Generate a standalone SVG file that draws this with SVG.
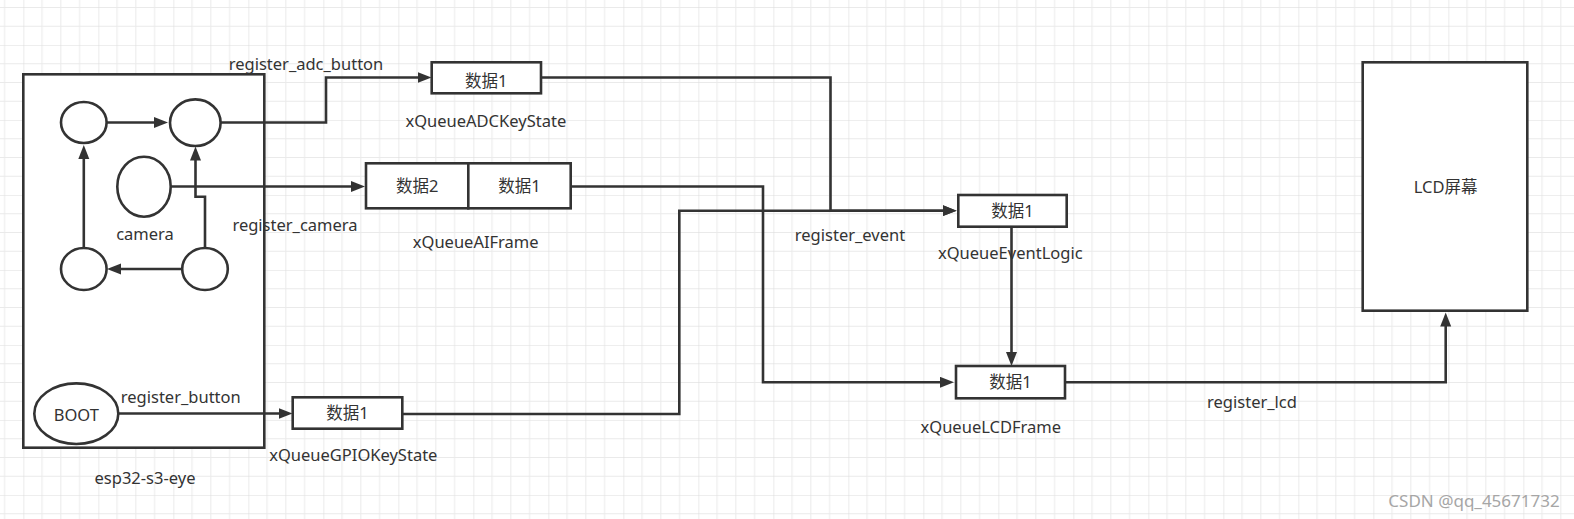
<svg xmlns="http://www.w3.org/2000/svg" width="1574" height="519" viewBox="0 0 1574 519">
<style>
.shape{fill:#ffffff;stroke:#333333;stroke-width:2.6}
.conn{fill:none;stroke:#333333;stroke-width:2.6;marker-end:url(#arr)}
text{font-family:"Noto Sans","Noto Sans CJK SC",sans-serif;font-size:16.5px;fill:#333333;text-anchor:middle}
.wm{fill:#a6a6a6;font-size:17px}
</style>
<defs>
<pattern id="grid" patternUnits="userSpaceOnUse" x="23.33" y="45" width="75" height="75">
<path d="M18.75 0V75M37.5 0V75M56.25 0V75M0 18.75H75M0 37.5H75M0 56.25H75" stroke="#eaeaea" stroke-width="1" fill="none"/>
<path d="M0 0V75M0 0H75" stroke="#dedede" stroke-width="1.2" fill="none"/>
</pattern>
<marker id="arr" markerUnits="userSpaceOnUse" markerWidth="16" markerHeight="12" refX="4" refY="5.5" orient="auto">
<path d="M0,0 L14,5.5 L0,11 Z" fill="#333333"/>
</marker>
</defs>
<rect width="1574" height="519" fill="#ffffff"/>
<rect width="1574" height="519" fill="url(#grid)"/>

<g id="esp32-board">
<rect class="shape" x="23.3" y="74.3" width="241" height="373.4"/>
<text x="145" y="484">esp32-s3-eye</text>
</g>
<g id="node-tl"><ellipse class="shape" cx="83.8" cy="122.5" rx="22.8" ry="20.5"/></g>
<g id="node-tr"><ellipse class="shape" cx="195.3" cy="122.7" rx="25.3" ry="23.3"/></g>
<g id="node-camera">
<ellipse class="shape" cx="144" cy="186.7" rx="26.7" ry="30"/>
<text x="145" y="240">camera</text>
</g>
<g id="node-bl"><ellipse class="shape" cx="83.8" cy="269" rx="22.8" ry="21"/></g>
<g id="node-br"><ellipse class="shape" cx="205" cy="269" rx="22.8" ry="21"/></g>
<g id="node-boot">
<ellipse class="shape" cx="76.3" cy="413.7" rx="42" ry="30.3"/>
<text x="76.3" y="421">BOOT</text>
</g>

<g id="q-adc">
<rect class="shape" x="431.7" y="62.3" width="109.3" height="31"/>
<text x="486.3" y="86.5">数据1</text>
<text x="485.8" y="126.5">xQueueADCKeyState</text>
</g>
<g id="q-ai">
<rect class="shape" x="366" y="163.3" width="102.3" height="45"/>
<rect class="shape" x="468.3" y="163.3" width="102.4" height="45"/>
<text x="417.2" y="192">数据2</text>
<text x="519.5" y="192">数据1</text>
<text x="475.7" y="248">xQueueAIFrame</text>
</g>
<g id="q-gpio">
<rect class="shape" x="292.7" y="397.3" width="109.6" height="31.4"/>
<text x="347.5" y="419">数据1</text>
<text x="353.3" y="461">xQueueGPIOKeyState</text>
</g>
<g id="q-event">
<rect class="shape" x="958.3" y="195" width="108.4" height="31.7"/>
<text x="1012.5" y="216.8">数据1</text>
<text x="1010.3" y="259">xQueueEventLogic</text>
</g>
<g id="q-lcdframe">
<rect class="shape" x="956" y="366" width="109" height="32.3"/>
<text x="1010.5" y="388">数据1</text>
<text x="990.8" y="433">xQueueLCDFrame</text>
</g>
<g id="lcd">
<rect class="shape" x="1362.7" y="62.3" width="164.6" height="248.4"/>
<text x="1445.7" y="192.5">LCD屏幕</text>
</g>

<g id="connectors">
<path class="conn" d="M106.6,122.5 H158"/>
<path class="conn" d="M182.2,269 H117"/>
<path class="conn" d="M83.8,248 V155"/>
<path class="conn" d="M205,248 V196.7 H195.5 V156.5"/>
<path class="conn" d="M170.7,186.5 H355"/>
<path class="conn" d="M220.6,122.5 H326 V77.5 H421.5"/>
<path class="conn" d="M541,77.5 H830.5 V210.7 H946.7"/>
<path class="conn" d="M402.3,414 H679.3 V210.7 H946.7"/>
<path class="conn" d="M570.7,186.5 H763 V382.3 H944"/>
<path class="conn" d="M1011.5,226.7 V356"/>
<path class="conn" d="M1065,382.3 H1445.7 V322.5"/>
<path class="conn" d="M118.3,413.5 H282.5"/>
<text x="306" y="70">register_adc_button</text>
<text x="295" y="231">register_camera</text>
<text x="180.8" y="403">register_button</text>
<text x="850" y="240.5">register_event</text>
<text x="1252" y="408">register_lcd</text>
</g>
<text class="wm" x="1474" y="507">CSDN @qq_45671732</text>
</svg>
